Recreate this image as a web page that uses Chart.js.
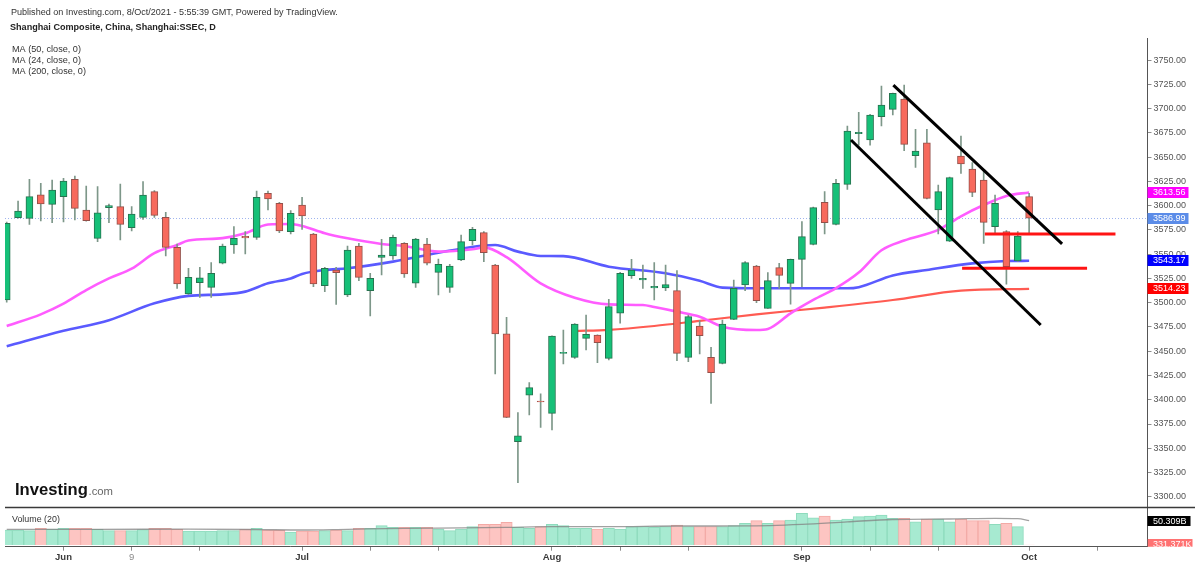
<!DOCTYPE html>
<html><head><meta charset="utf-8">
<script src="https://cdn.jsdelivr.net/npm/chart.js@4.4.1/dist/chart.umd.min.js"></script>
<style>html,body{margin:0;padding:0;background:#fff;overflow:hidden}#wrap{width:1200px;height:566px;position:relative}</style>
</head><body><div id="wrap"><canvas id="c" width="1200" height="566"></canvas></div>
<script>
// ---------- DATA ----------
const dates = ['2021-05-25','2021-05-26','2021-05-27','2021-05-28','2021-05-31',
'2021-06-01','2021-06-02','2021-06-03','2021-06-04','2021-06-07','2021-06-08','2021-06-09','2021-06-10','2021-06-11','2021-06-15','2021-06-16','2021-06-17','2021-06-18','2021-06-21','2021-06-22','2021-06-23','2021-06-24','2021-06-25','2021-06-28','2021-06-29','2021-06-30',
'2021-07-01','2021-07-02','2021-07-05','2021-07-06','2021-07-07','2021-07-08','2021-07-09','2021-07-12','2021-07-13','2021-07-14','2021-07-15','2021-07-16','2021-07-19','2021-07-20','2021-07-21','2021-07-22','2021-07-23','2021-07-26','2021-07-27','2021-07-28','2021-07-29','2021-07-30',
'2021-08-02','2021-08-03','2021-08-04','2021-08-05','2021-08-06','2021-08-09','2021-08-10','2021-08-11','2021-08-12','2021-08-13','2021-08-16','2021-08-17','2021-08-18','2021-08-19','2021-08-20','2021-08-23','2021-08-24','2021-08-25','2021-08-26','2021-08-27','2021-08-30','2021-08-31',
'2021-09-01','2021-09-02','2021-09-03','2021-09-06','2021-09-07','2021-09-08','2021-09-09','2021-09-10','2021-09-13','2021-09-14','2021-09-15','2021-09-16','2021-09-17','2021-09-22','2021-09-23','2021-09-24','2021-09-27','2021-09-28','2021-09-29','2021-09-30',
'2021-10-08'];
const open  = [3502.8,3587.6,3586.9,3611.0,3601.3,3609.2,3627.1,3595.5,3566.3,3597.9,3598.9,3577.3,3587.9,3614.4,3587.9,3557.0,3509.0,3520.6,3515.8,3540.6,3559.4,3568.4,3567.3,3612.7,3602.4,3573.2,3600.6,3570.8,3517.6,3533.7,3507.9,3558.4,3512.4,3546.7,3548.1,3561.2,3520.0,3560.5,3531.3,3515.8,3544.0,3563.9,3572.2,3538.8,3467.8,3356.8,3404.6,3398.7,3386.0,3447.8,3443.7,3463.3,3466.7,3442.7,3489.1,3527.9,3523.4,3515.1,3515.1,3512.4,3443.7,3476.0,3443.7,3437.5,3482.8,3518.2,3537.8,3494.2,3536.1,3519.9,3544.7,3560.1,3603.4,3580.7,3621.9,3674.1,3667.6,3691.6,3699.2,3709.8,3651.4,3664.8,3595.5,3563.5,3651.1,3637.7,3626.4,3578.3,3573.2,3543.0,3609.2];
const high  = [3583.0,3604.8,3627.0,3623.0,3626.4,3628.1,3630.5,3620.2,3619.5,3601.7,3622.3,3598.9,3624.7,3615.4,3593.1,3560.5,3535.4,3536.4,3541.2,3560.5,3578.3,3573.2,3615.0,3615.0,3603.4,3594.8,3608.5,3571.5,3536.4,3536.5,3558.4,3561.2,3530.3,3565.3,3569.7,3562.0,3566.3,3566.3,3545.0,3539.5,3569.7,3577.6,3573.2,3539.5,3484.9,3386.7,3417.6,3406.0,3465.9,3471.9,3478.5,3487.3,3467.0,3503.5,3531.3,3544.7,3538.8,3541.2,3538.8,3533.0,3487.3,3481.5,3454.0,3482.2,3523.4,3542.3,3538.5,3530.9,3540.6,3545.0,3583.5,3598.5,3614.4,3627.1,3682.0,3696.1,3694.0,3723.2,3716.0,3724.2,3678.6,3678.6,3621.2,3629.5,3671.7,3644.3,3636.0,3610.9,3574.2,3573.2,3612.6];
const low   = [3500.5,3587.0,3580.7,3584.2,3582.4,3583.1,3585.2,3584.0,3562.9,3582.4,3564.6,3573.9,3585.9,3587.9,3548.1,3514.8,3508.5,3505.5,3505.5,3539.9,3550.8,3550.2,3565.3,3595.5,3572.1,3570.8,3575.6,3516.5,3511.4,3498.3,3506.2,3522.7,3486.3,3528.5,3544.7,3526.1,3515.8,3538.8,3507.9,3510.7,3543.3,3559.4,3542.3,3426.5,3381.5,3314.6,3384.3,3371.6,3368.9,3436.9,3442.7,3451.3,3438.2,3441.0,3478.8,3525.1,3514.8,3502.8,3512.4,3440.3,3439.3,3447.1,3396.3,3437.0,3482.5,3512.4,3500.0,3494.0,3514.8,3498.6,3516.5,3559.5,3570.8,3580.0,3616.8,3662.4,3662.4,3682.0,3693.4,3656.6,3639.4,3607.0,3570.8,3562.9,3633.2,3609.2,3561.1,3570.8,3519.2,3542.5,3572.1];
const close = [3581.8,3594.5,3609.2,3601.7,3616.1,3625.4,3597.2,3584.5,3592.7,3600.0,3580.7,3591.4,3610.9,3590.0,3557.0,3519.3,3526.1,3525.5,3530.3,3558.4,3566.3,3566.7,3608.5,3606.8,3573.9,3592.1,3589.3,3519.3,3535.4,3531.0,3554.3,3526.1,3525.1,3549.1,3567.3,3529.6,3565.6,3540.6,3539.5,3537.8,3562.9,3575.6,3551.5,3467.8,3381.9,3362.7,3412.5,3397.7,3465.7,3448.5,3478.0,3467.4,3458.8,3495.9,3530.3,3533.7,3525.1,3516.9,3518.6,3447.8,3485.6,3466.0,3427.9,3478.0,3514.8,3541.2,3502.1,3522.7,3528.2,3544.7,3568.0,3597.9,3582.4,3623.0,3676.9,3675.5,3693.4,3703.6,3715.7,3663.1,3656.3,3607.5,3614.4,3628.8,3642.9,3613.7,3582.8,3602.3,3537.1,3568.7,3586.99];
// volume in billions
const volume = [31.1,31.1,29.6,34.6,33.1,34.6,34.6,34.6,32.5,29.6,
 29.6,29.6,31.7,34.6,34.6,32.5,29,29,29,29.6,
 29.6,32.5,34.6,31.1,30.4,26.9,29,29,29.6,31.1,
 29.6,34.6,34.6,40,36.6,36.6,36.6,36.6,33.1,29.6,
 33.1,37.9,42.8,42.8,47,37.3,34.6,37.9,42.8,40,
 34.6,34.6,33.1,34.6,33.1,37.9,37.9,36.6,37.9,41.4,
 37.9,37.9,37.9,37.9,40,44.9,50.3,44.9,50.3,51.8,
 65.6,56.5,60,51.8,53.8,58.6,60,62.1,55.3,55.3,
 48.2,53.8,53.8,48.2,53.8,50.3,50.3,42.8,44.9,37.9,
 0.000331371];
// moving averages (index of trading day -> value)
const ma24Idx = [0,3,5,7,9,11,13,15,16,19,21,23,25,26,28,30,33,35,38,41,42,44,47,50,53,56,57,59,61,63,66,67,69,71,73,75,77,79,82,84,86,88,90];
const ma24    = [3476,3488,3499,3513,3525,3535,3551,3559.5,3564,3566.5,3571.5,3580.5,3581,3579,3571.5,3566.3,3560.5,3558.4,3552.6,3555,3557,3547,3520,3505.2,3498.3,3497.6,3495.5,3490.8,3485.6,3475.3,3471.9,3473,3489,3502.8,3515,3531,3554,3564,3575,3589,3600.6,3610,3613.56];
const ma50Idx = [0,5,9,13,16,19,21,23,25,26,28,30,34,38,42,43,45,47,49,53,58,61,63,66,70,74,75,78,81,85,88,90];
const ma50    = [3455,3471,3482,3499.3,3507,3508.6,3511.4,3520,3525,3529.6,3533.7,3535.4,3542.3,3551.5,3559,3559.4,3552.6,3548.1,3548,3537.1,3530.3,3522.5,3515.5,3514.8,3514.8,3514.8,3516,3528,3533.7,3540.5,3542.9,3543.17];
const ma200Idx = [50,53,57,61,66,72,78,84,90];
const ma200    = [3470.8,3472,3476,3481.3,3488,3495,3502.8,3512.4,3514.23];
const vmaIdx = [0,8,16,22,26,30,35,40,44,48,53,59,65,70,74,78,83,87,89,90];
const vma    = [32.5,32.5,32.8,32,31,32.5,34.5,35.5,36.6,37.9,37.9,39.3,39.5,42.8,48,52.8,53.8,55.2,54.5,50.309];
// x-axis ticks (trading-day index) and labels
const tickIdx    = [5,11,17,26,32,38,48,54,60,70,76,82,90,96];
const tickLabels = ['Jun','9','','Jul','','','Aug','','','Sep','','','Oct',''];
// price ticks
const priceTicks = [3300,3325,3350,3375,3400,3425,3450,3475,3500,3525,3550,3575,3600,3625,3650,3675,3700,3725,3750];
// drawn annotations (index, price)
const trendUpper = [[78.05,3724.2],[92.9,3560.5]];
const trendLower = [[74.32,3667.6],[91.02,3477.0]];
const levelUpper = [[86.1,3570.8],[97.6,3570.8]];
const levelLower = [[84.1,3535.4],[95.1,3535.4]];

// ---------- CHART ----------
const FF = '"Liberation Sans", Arial, Helvetica, sans-serif';
Chart.defaults.font.family = FF;
const idx = dates.map((_, i) => i);
const up = idx.map(i => close[i] >= open[i]);
const pts = (ix, vals) => ix.map((x, k) => ({x, y: vals[k]}));
const seg = arr => arr.map(p => ({x: p[0], y: p[1]}));

const G_FILL = '#16c078', G_EDGE = '#27724f', R_FILL = '#f76a5d', R_EDGE = '#94504a';

const lineDs = (data, color, width, axis) => ({type: 'line', data, borderColor: color, borderWidth: width,
  pointRadius: 0, fill: false, cubicInterpolationMode: 'monotone', yAxisID: axis || 'y'});

const datasets = [
  Object.assign(lineDs(seg(trendUpper), '#000', 3), {cubicInterpolationMode: 'default', tension: 0}),
  Object.assign(lineDs(seg(trendLower), '#000', 3), {cubicInterpolationMode: 'default', tension: 0}),
  Object.assign(lineDs(seg(levelUpper), '#ff1414', 3), {cubicInterpolationMode: 'default', tension: 0}),
  Object.assign(lineDs(seg(levelLower), '#ff1414', 3), {cubicInterpolationMode: 'default', tension: 0}),
  {type: 'bar', data: idx.map(i => ({x: i, y: [open[i], close[i]]})), yAxisID: 'y', grouped: false,
   barThickness: 7, backgroundColor: idx.map(i => up[i] ? G_FILL : R_FILL),
   borderColor: idx.map(i => up[i] ? G_EDGE : R_EDGE), borderWidth: 1, borderSkipped: false, minBarLength: 1},
  {type: 'bar', data: idx.map(i => ({x: i, y: [low[i], high[i]]})), yAxisID: 'y', grouped: false,
   barThickness: 1, backgroundColor: '#7d9789', borderWidth: 0},
  lineDs(pts(ma24Idx, ma24), '#ff5cff', 2.6),
  lineDs(pts(ma50Idx, ma50), '#5a5aff', 2.6),
  lineDs(pts(ma200Idx, ma200), '#ff5b52', 2.2),
  lineDs(pts(vmaIdx, vma), 'rgba(130,130,130,0.75)', 1.3, 'yv'),
  {type: 'bar', data: idx.map(i => ({x: i, y: volume[i]})), yAxisID: 'yv', grouped: false,
   barPercentage: 1, categoryPercentage: 1,
   backgroundColor: idx.map(i => up[i] ? '#a7ead1' : '#fdc5c2'),
   borderColor: idx.map(i => up[i] ? '#8edbbd' : '#f3aaa6'), borderWidth: 1}
];

function fitText(ctx, text, x, y, w, weight, color) {
  ctx.font = weight + ' 10px ' + FF;
  const m = ctx.measureText(text).width;
  ctx.font = weight + ' ' + (10 * w / m).toFixed(2) + 'px ' + FF;
  ctx.fillStyle = color; ctx.textBaseline = 'alphabetic'; ctx.textAlign = 'left';
  ctx.fillText(text, x, y);
}
function tag(ctx, x, y, w, h, text, bg) {
  ctx.fillStyle = bg; ctx.fillRect(x, Math.round(y - h / 2), w, h);
  ctx.fillStyle = '#fff'; ctx.font = '9px ' + FF; ctx.textBaseline = 'middle'; ctx.textAlign = 'left';
  ctx.fillText(text, x + 5.5, Math.round(y - h / 2) + h / 2 + 0.5);
}

const overlay = {
  id: 'overlay',
  beforeDatasetsDraw(chart) {
    const {ctx, chartArea: a, scales: {y}} = chart;
    const py = Math.round(y.getPixelForValue(close[close.length - 1])) + 0.5;
    ctx.save(); ctx.strokeStyle = '#9fb4ee'; ctx.lineWidth = 1; ctx.setLineDash([1, 2]);
    ctx.beginPath(); ctx.moveTo(a.left, py); ctx.lineTo(a.right, py); ctx.stroke(); ctx.restore();
  },
  afterDraw(chart) {
    const {ctx, chartArea: a, scales: {y, yv}} = chart;
    ctx.save();
    // pane separator
    ctx.strokeStyle = '#3a3a3a'; ctx.lineWidth = 1.5;
    ctx.beginPath(); ctx.moveTo(a.left, 507.5); ctx.lineTo(1195, 507.5); ctx.stroke();
    // header texts
    fitText(ctx, 'Published on Investing.com, 8/Oct/2021 - 5:55:39 GMT, Powered by TradingView.', 11, 15, 327, 'normal', '#333');
    fitText(ctx, 'Shanghai Composite, China, Shanghai:SSEC, D', 10, 29.5, 206, 'bold', '#222');
    fitText(ctx, 'MA (50, close, 0)', 12, 52, 69, 'normal', '#333');
    fitText(ctx, 'MA (24, close, 0)', 12, 63.3, 69, 'normal', '#333');
    fitText(ctx, 'MA (200, close, 0)', 12, 74.3, 74, 'normal', '#333');
    fitText(ctx, 'Volume (20)', 12, 522.3, 48, 'normal', '#333');
    fitText(ctx, 'Investing', 15, 495, 73, 'bold', '#111');
    fitText(ctx, '.com', 88.5, 495, 24.5, 'normal', '#666');
    // right axis value tags
    const x0 = a.right;
    tag(ctx, x0, y.getPixelForValue(ma24[ma24.length - 1]), 41, 11, ma24[ma24.length - 1].toFixed(2), '#ff00ff');
    tag(ctx, x0, y.getPixelForValue(close[close.length - 1]), 41, 11, close[close.length - 1].toFixed(2), '#5b8ce8');
    tag(ctx, x0, y.getPixelForValue(ma50[ma50.length - 1]), 41, 11, ma50[ma50.length - 1].toFixed(2), '#0000ff');
    tag(ctx, x0, y.getPixelForValue(ma200[ma200.length - 1]), 41, 11, ma200[ma200.length - 1].toFixed(2), '#ff0000');
    tag(ctx, x0, yv.getPixelForValue(vma[vma.length - 1]), 43, 10, vma[vma.length - 1].toFixed(3) + 'B', '#000');
    ctx.save(); ctx.beginPath(); ctx.rect(x0, 530, 60, a.bottom - 530); ctx.clip();
    tag(ctx, x0, yv.getPixelForValue(volume[volume.length - 1]), 45, 11, (volume[volume.length - 1] * 1e6).toFixed(3) + 'K', '#ff7272');
    ctx.restore();
    ctx.restore();
  }
};

new Chart(document.getElementById('c'), {
  type: 'bar',
  data: {datasets},
  options: {
    responsive: false, animation: false, devicePixelRatio: 1,
    layout: {padding: {left: 5, top: 38, right: 0, bottom: 0}},
    plugins: {legend: {display: false}, tooltip: {enabled: false}},
    scales: {
      x: {
        type: 'linear', min: -0.15, max: 100.42, offset: false,
        afterBuildTicks: s => { s.ticks = tickIdx.map(v => ({value: v})); },
        afterFit: s => { s.height = 19.3; s.paddingLeft = 0; s.paddingRight = 0; },
        ticks: {
          autoSkip: false, maxRotation: 0, padding: 1,
          callback: v => { const k = tickIdx.indexOf(v); return k < 0 ? '' : tickLabels[k]; },
          color: c => (tickLabels[tickIdx.indexOf(c.tick && c.tick.value)] === '9' ? '#8a8a8a' : '#3a3a3a'),
          font: c => ({size: 9.5, weight: (tickLabels[tickIdx.indexOf(c.tick && c.tick.value)] === '9' ? 'normal' : 'bold')})
        },
        grid: {display: true, offset: false, drawOnChartArea: false, drawTicks: true, tickLength: 4, color: '#8c8c8c'},
        border: {display: true, color: '#555', width: 1}
      },
      y: {
        type: 'linear', position: 'right', min: 3248.6, max: 3772.7,
        afterBuildTicks: s => { s.ticks = priceTicks.map(v => ({value: v})); },
        afterFit: s => { s.width = 52.5; s.paddingTop = 0; s.paddingBottom = 0; },
        ticks: {autoSkip: false, padding: 2, color: '#555', font: {size: 9}, callback: v => Number(v).toFixed(2)},
        grid: {display: true, drawOnChartArea: false, drawTicks: true, tickLength: 4, color: '#8c8c8c'},
        border: {display: true, color: '#555', width: 1}
      },
      yv: {type: 'linear', display: false, min: -3.52, max: 1049.5}
    }
  },
  plugins: [overlay]
});
</script></body></html>
